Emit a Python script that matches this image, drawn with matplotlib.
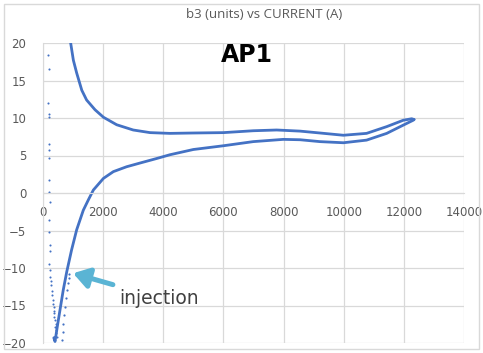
import matplotlib.pyplot as plt
from matplotlib.patches import Rectangle

# up-ramp branch (lower curve)
up_x = [360, 400, 476, 565, 675, 790, 950, 1120, 1340, 1510, 1675, 2010, 2340,
        2780, 3230, 3780, 4220, 5000, 6000, 6990, 7990, 8550, 9210, 9990,
        10760, 11430, 11980, 12310, 12340]
up_y = [-19.3, -19.8, -17.8, -15.6, -12.9, -10.5, -7.6, -4.9, -2.3, -0.9, 0.4,
        1.95, 2.85, 3.5, 4.0, 4.6, 5.1, 5.8, 6.3, 6.85, 7.15, 7.1, 6.85, 6.7,
        7.05, 7.95, 9.05, 9.7, 9.8]

# down-ramp branch (upper curve)
down_x = [12340, 12260, 11980, 11430, 10760, 9990, 9210, 8550, 7770, 6990,
          6000, 5000, 4220, 3560, 3000, 2450, 2010, 1730, 1450, 1290, 1120,
          1010, 920, 880]
down_y = [9.8, 9.9, 9.7, 8.85, 7.95, 7.7, 8.0, 8.25, 8.4, 8.3,
          8.05, 8.0, 7.95, 8.05, 8.4, 9.1, 10.1, 11.1, 12.4, 13.7, 16.0,
          17.7, 20.0, 21.0]

# scattered points near zero current
dots_x = [170, 200, 170, 200, 200, 200, 200, 200, 200, 200, 230, 200, 200, 230,
          230, 200, 230, 230, 260, 260, 300, 300, 330, 330, 360, 360, 380, 350,
          390, 420, 400, 440, 420, 450]
dots_y = [18.4, 16.5, 12.0, 10.6, 10.2, 6.5, 5.7, 4.7, 1.7, 0.2, -1.2, -3.6,
          -5.2, -6.9, -7.7, -9.4, -10.3, -11.2, -11.7, -12.3, -13.0, -13.6,
          -14.3, -14.8, -15.2, -15.7, -16.0, -16.5, -16.9, -17.4, -17.8, -18.3,
          -18.7, -19.2]
tail_x = [620, 650, 675, 705, 730, 760, 790, 820, 850, 880]
tail_y = [-19.6, -18.5, -17.4, -16.3, -15.2, -14.0, -12.9, -12.0, -11.3, -10.8]

x_ticks = [0, 2000, 4000, 6000, 8000, 10000, 12000, 14000]
y_ticks = [-20, -15, -10, -5, 0, 5, 10, 15, 20]

blue = '#4472C4'
grey = '#595959'

fig = plt.figure(figsize=(4.83, 3.53), dpi=100)
fig.patches.append(Rectangle((4 / 483, 4 / 353), 475 / 483, 345 / 353,
                             transform=fig.transFigure, fill=False,
                             edgecolor='#d9d9d9', linewidth=1))
ax = fig.add_axes([43 / 483, 10 / 353, 421 / 483, 300 / 353])

ax.plot(up_x, up_y, color=blue, linewidth=2.0, solid_capstyle='round',
        solid_joinstyle='round')
ax.plot(down_x, down_y, color=blue, linewidth=2.0, solid_capstyle='round',
        solid_joinstyle='round')
ax.plot(dots_x, dots_y, 'o', color=blue, markersize=1.5, markeredgewidth=0)
ax.plot(tail_x, tail_y, 'o', color=blue, markersize=1.6, markeredgewidth=0)

ax.set_xlim(0, 14000)
ax.set_ylim(-20, 20)
ax.set_xticks(x_ticks)
ax.set_yticks(y_ticks)
ax.grid(True, color='#d9d9d9', linewidth=0.9)
ax.set_axisbelow(True)
for s in ['top', 'right']:
    ax.spines[s].set_visible(False)
ax.spines['bottom'].set_position(('data', 0))
ax.spines['bottom'].set_color('#d9d9d9')
ax.spines['left'].set_color('#d9d9d9')
ax.tick_params(length=0, labelsize=8.5, colors=grey)
ax.tick_params(axis='x', pad=9)
ax.tick_params(axis='y', pad=12)

fig.text(264 / 483, 1 - 15 / 353, 'b3 (units) vs CURRENT (A)', ha='center',
         va='center', fontsize=9.5, color=grey, family='Open Sans')
fig.text(247 / 483, 1 - 55 / 353, 'AP1', ha='center', va='center',
         fontsize=17, fontweight='bold', color='black')

ax.annotate('injection', xy=(1000, -10.7), xytext=(2550, -14.0),
            fontsize=13.5, color='#404040', va='center', ha='left',
            arrowprops=dict(arrowstyle='-|>,head_width=0.45,head_length=0.7',
                            color='#5ab4d4', linewidth=3.6, shrinkA=3, shrinkB=0))

fig.savefig('out.png', dpi=100)
